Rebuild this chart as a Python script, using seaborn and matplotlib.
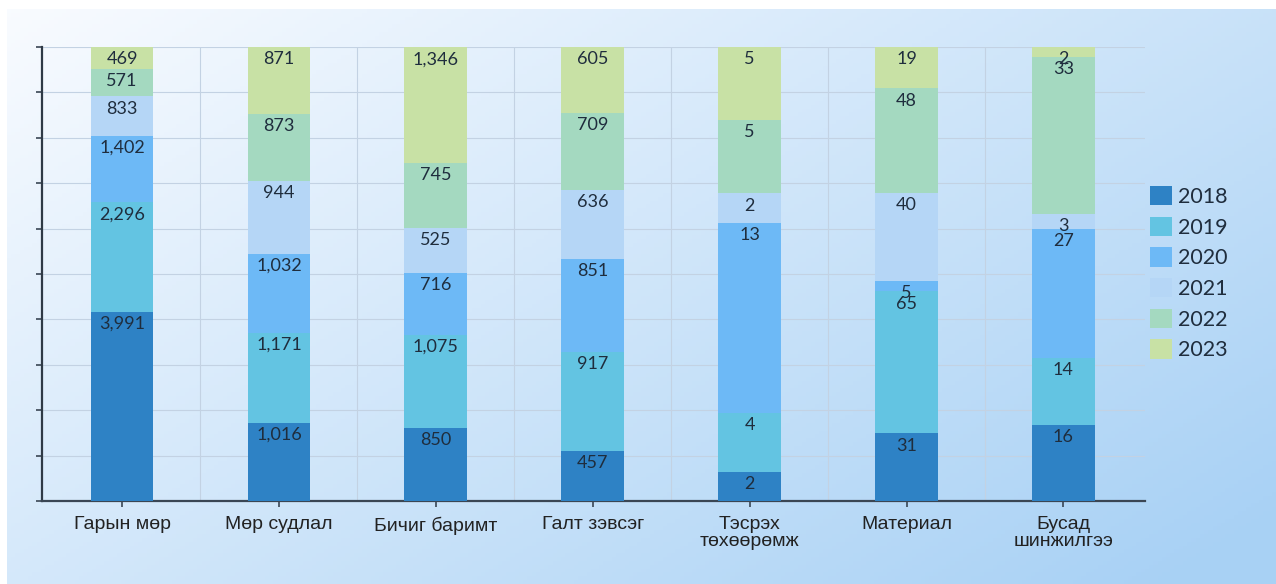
import numpy as np
import pandas as pd
import matplotlib.pyplot as plt
import seaborn as sns

# Data (counts per category and year; bars are 100% stacked)
categories = ["Гарын мөр", "Мөр судлал", "Бичиг баримт", "Галт зэвсэг",
              "Тэсрэх\nтөхөөрөмж", "Материал", "Бусад\nшинжилгээ"]
years = ["2018", "2019", "2020", "2021", "2022", "2023"]
v2018 = [3991, 1016, 850, 457, 2, 31, 16]
v2019 = [2296, 1171, 1075, 917, 4, 65, 14]
v2020 = [1402, 1032, 716, 851, 13, 5, 27]
v2021 = [833, 944, 525, 636, 2, 40, 3]
v2022 = [571, 873, 745, 709, 5, 48, 33]
v2023 = [469, 871, 1346, 605, 5, 19, 2]

colors = ["#2e82c5", "#63c4e2", "#6db9f6", "#b5d6f6", "#a4d9c0", "#c8e1a5"]

data = pd.DataFrame([v2018, v2019, v2020, v2021, v2022, v2023],
                    index=years, columns=categories)
share = data / data.sum(axis=0)

sns.set_style("white")
plt.rcParams["font.family"] = ["Liberation Sans", "DejaVu Sans"]

fig = plt.figure(figsize=(12.76, 5.84), dpi=100)
fig.patch.set_facecolor("white")

# gradient background panel
bg = fig.add_axes([7 / 1276, 0, 1 - 7 / 1276, (584 - 9) / 584], zorder=0)
gx, gy = np.meshgrid(np.linspace(0, 1, 300), np.linspace(0, 1, 150))
t = np.clip(0.6 * gx + 0.45 * gy, 0, 1)
c0 = np.array([0.975, 0.985, 1.0])
c1 = np.array([0.66, 0.82, 0.96])
img = c0[None, None, :] * (1 - t[..., None]) + c1[None, None, :] * t[..., None]
bg.imshow(img, aspect="auto", extent=[0, 1, 1, 0])
bg.axis("off")

ax = fig.add_axes([42 / 1276, (584 - 501) / 584, (1145 - 42) / 1276, (501 - 47) / 584], zorder=1)
ax.set_facecolor("none")

bottom = np.zeros(len(categories))
for year, col in zip(years, colors):
    vals = share.loc[year].values
    sns.barplot(x=categories, y=vals, bottom=bottom, color=col, width=0.4,
                saturation=1, label=year, ax=ax, zorder=3, linewidth=0, edgecolor="none")
    tops = bottom + vals
    for i, (top, raw) in enumerate(zip(tops, data.loc[year].values)):
        ax.annotate(f"{raw:,}", (i, top), xytext=(0, -3), textcoords="offset points",
                    ha="center", va="top", fontsize=13, color="#1f2d3d",
                    family=["Lato", "DejaVu Sans"], zorder=4)
    bottom = tops

ax.set_xlim(-0.51, 6.52)
ax.set_ylim(0, 1)
ax.set_yticks(np.arange(0, 1.01, 0.1))
ax.set_yticklabels([])
ax.set_xticks(np.arange(7), [c for c in categories])
ax.set_xticks(np.arange(0.5, 6.5, 1), minor=True)
ax.tick_params(axis="x", which="major", length=4, width=1.2, color="#3a4654",
               labelsize=14, labelcolor="#222222", pad=7, direction="out", bottom=True)
for lbl in ax.get_xticklabels():
    lbl.set_linespacing(1.0)
ax.tick_params(axis="x", which="minor", length=0)
ax.tick_params(axis="y", length=4, width=1.2, color="#3a4654", direction="out", left=True)
ax.grid(True, axis="y", which="major", color="#c3d2e3", linewidth=0.8, zorder=0)
ax.grid(True, axis="x", which="minor", color="#c3d2e3", linewidth=0.8, zorder=0)
ax.set_axisbelow(True)
for s in ["top", "right"]:
    ax.spines[s].set_visible(False)
ax.spines["left"].set_color("#2f3a46")
ax.spines["left"].set_linewidth(1.6)
ax.spines["bottom"].set_color("#3a4654")
ax.spines["bottom"].set_linewidth(1.6)
ax.set_xlabel("")
ax.set_ylabel("")

leg = ax.legend(loc="upper left", bbox_to_anchor=(1150 / 1276, (584 - 186) / 584),
                bbox_transform=fig.transFigure, frameon=False, borderaxespad=0,
                borderpad=0, handlelength=1.0, handleheight=1.0, handletextpad=0.3,
                labelspacing=0.45, prop={"family": ["Lato", "DejaVu Sans"], "size": 15.5})
for txt in leg.get_texts():
    txt.set_color("#1f2d3d")

fig.savefig("out.png", dpi=100)
